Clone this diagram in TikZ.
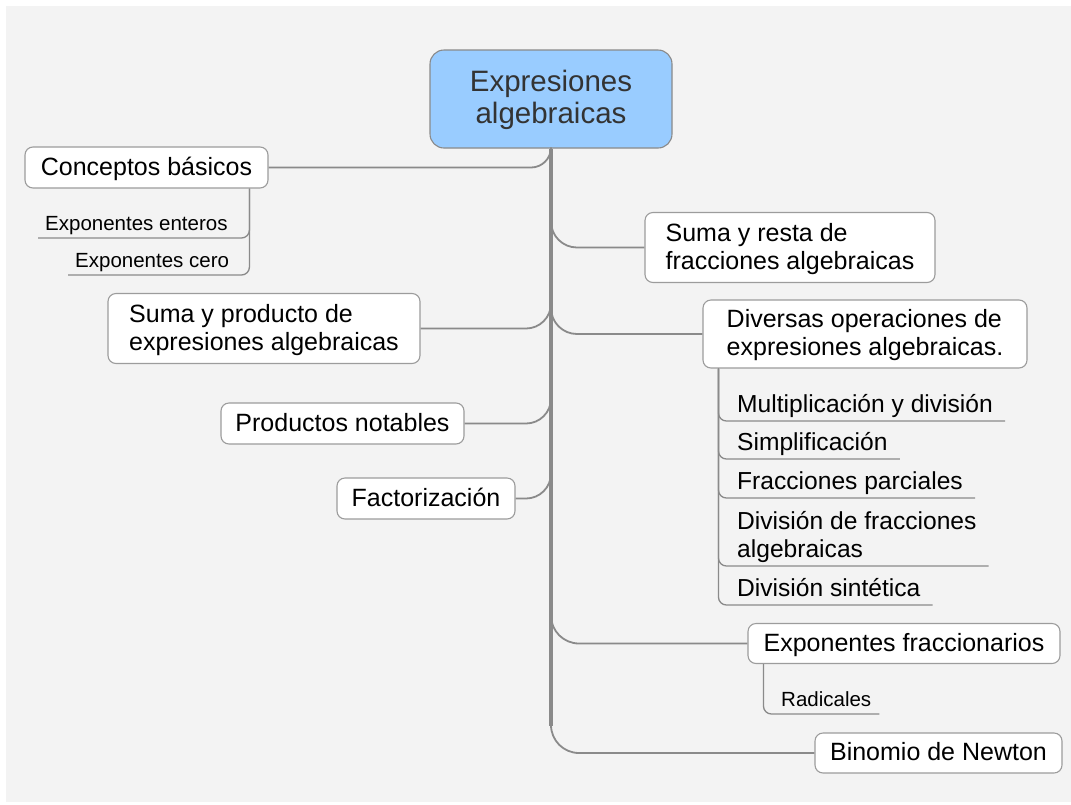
\documentclass[tikz,border=0pt]{standalone}
\usepackage{fontspec}
\setmainfont{Liberation Sans}
\usetikzlibrary{calc}
\definecolor{canvas}{HTML}{F3F3F3}
\definecolor{rootfill}{HTML}{99CCFF}
\definecolor{wire}{HTML}{8A8A8A}
\definecolor{frame}{HTML}{9C9C9C}
\definecolor{roottext}{HTML}{333333}

\begin{document}
\begin{tikzpicture}[x=1pt,y=-1pt,
  topic/.style={draw=frame, line width=1.1pt, fill=white, rounded corners=8pt,
    inner sep=0pt, align=left, text height=19pt, text depth=4pt,
    font=\fontsize{25}{28}\selectfont},
  twoline/.style={text height=47pt, text depth=4pt},
  sub/.style={inner xsep=12pt, inner ysep=2.5pt, text depth=5.5pt, align=left,
    anchor=south west, font=\fontsize{24.6}{28}\selectfont},
  minor/.style={inner xsep=7pt, inner ysep=3pt, text depth=4.5pt,
    anchor=south west, font=\fontsize{20.5}{24}\selectfont},
  link/.style={draw=wire, line width=1.8pt},
  sublink/.style={draw=wire, line width=1.3pt, rounded corners=8pt},
  trunkline/.style={draw=wire, line width=3.6pt},
]
% canvas
\useasboundingbox (0,0) rectangle (1071,804);
\fill[canvas] (6,6) rectangle (1071,802);

% central topic
\node[draw=wire, line width=1.1pt, fill=rootfill, rounded corners=14pt,
  minimum width=242pt, minimum height=98pt, inner sep=0pt, align=center,
  text height=54pt, text depth=5.6pt,
  text=roottext, font=\fontsize{29.5}{31.5}\selectfont] (root) at (551,99)
  {Expresiones\\algebraicas};

% main topics, left side
\node[topic, minimum width=243pt, minimum height=41pt] (cb) at (146.5,167.5) {Conceptos básicos};
\node[topic, twoline, minimum width=312pt, minimum height=70pt] (spr) at (264,328.5) {Suma y producto de\\expresiones algebraicas};
\node[topic, minimum width=243pt, minimum height=41pt] (pn) at (342.5,423.5) {Productos notables};
\node[topic, minimum width=178pt, minimum height=41pt] (fac) at (426,498.5) {Factorización};

% main topics, right side
\node[topic, twoline, minimum width=290pt, minimum height=70pt] (sr) at (790,247.5) {Suma y resta de\\fracciones algebraicas};
\node[topic, twoline, minimum width=324pt, minimum height=68pt] (div) at (865,334) {Diversas operaciones de\\expresiones algebraicas.};
\node[topic, minimum width=312pt, minimum height=40pt] (ef) at (904,643.5) {Exponentes fraccionarios};
\node[topic, minimum width=247pt, minimum height=40pt] (bn) at (938.5,753) {Binomio de Newton};

% subtopics
\node[minor] (ee) at (38,238) {Exponentes enteros};
\node[minor] (ec) at (68,275) {Exponentes cero};

\node[sub] (mul) at (725,421) {Multiplicación y división};
\node[sub] (simp) at (725,459) {Simplificación};
\node[sub] (frp) at (725,498) {Fracciones parciales};
\node[sub] (dfa) at (725,566) {División de fracciones\\algebraicas};
\node[sub] (dsin) at (725,605) {División sintética};

\node[minor, inner xsep=8pt] (rad) at (773,714) {Radicales};

% branch points below the parent boxes
\coordinate (cbdrop) at ($(cb.south west)+(225,0)$);
\coordinate (divdrop) at ($(div.south west)+(16,0)$);
\coordinate (efdrop) at ($(ef.south west)+(16,0)$);
\coordinate (trunkend) at ($(root.south |- bn.west)+(0,-27)$);

% connectors to the main topics
\draw[link, rounded corners=20pt] (cb.east) -| (root.south);
\draw[link, rounded corners=25pt] (spr.east) -| (root.south);
\draw[link, rounded corners=25pt] (pn.east) -| (root.south);
\draw[link, rounded corners=25pt] (fac.east) -| (root.south);
\draw[link, rounded corners=26pt] (root.south) |- (sr.west);
\draw[link, rounded corners=26pt] (root.south) |- (div.west);
\draw[link, rounded corners=28pt] (root.south) |- (ef.west);
\draw[link, rounded corners=28pt] (root.south) |- (bn.west);
\draw[trunkline] (root.south) -- (trunkend);

% connectors to the subtopics
\draw[sublink] (cbdrop) |- (ee.south west);
\draw[sublink] (cbdrop) |- (ec.south west);
\foreach \s in {mul,simp,frp,dfa,dsin}
  \draw[sublink] (divdrop) |- (\s.south east);
\draw[sublink] (efdrop) |- (rad.south east);
\end{tikzpicture}
\end{document}
